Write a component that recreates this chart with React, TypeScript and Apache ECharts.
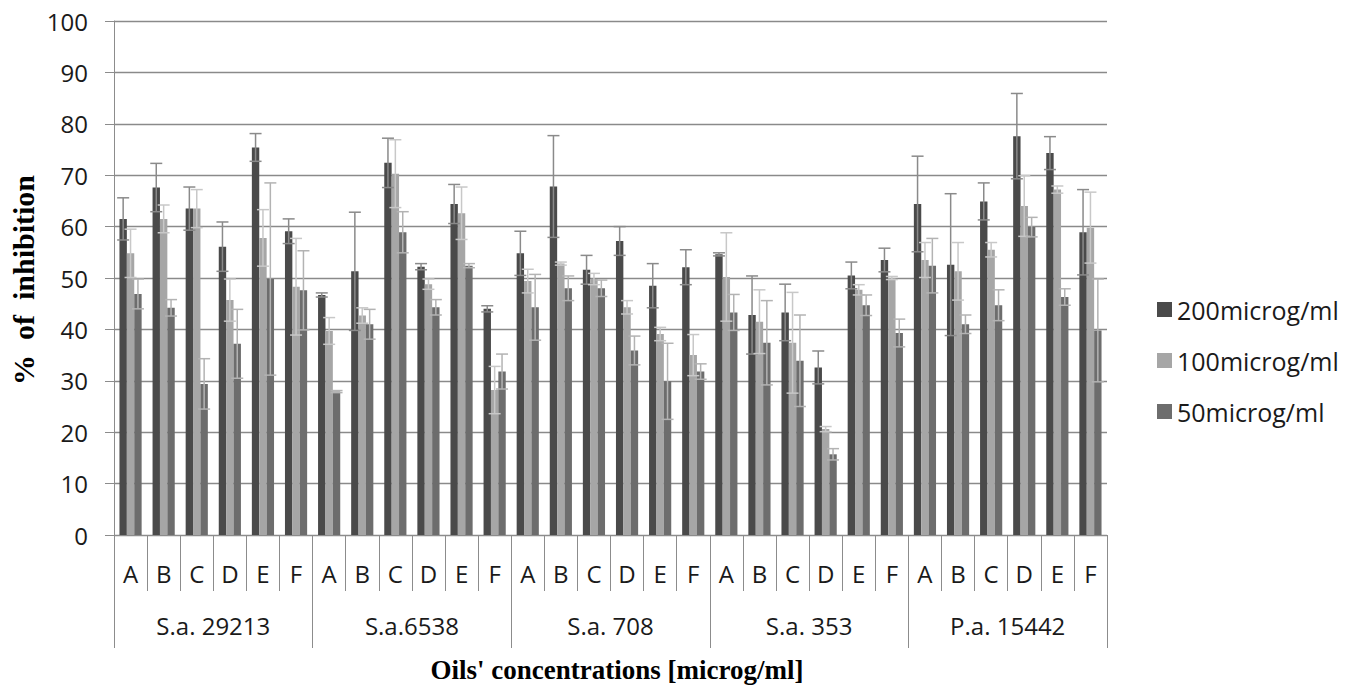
import React, { useEffect, useRef } from "react";
import * as echarts from "echarts";

const groups = ["S.a. 29213", "S.a.6538", "S.a. 708", "S.a. 353", "P.a. 15442"];
const oils = ["A", "B", "C", "D", "E", "F"];
const seriesNames = ["200microg/ml", "100microg/ml", "50microg/ml"];
const yTicks = [0, 10, 20, 30, 40, 50, 60, 70, 80, 90, 100];

const v200 = [61.5, 67.6, 63.5, 56.1, 75.4, 59.1, 46.7, 51.3, 72.4, 52.2, 64.4, 44.0, 54.8, 67.8, 51.6, 57.2, 48.5, 52.1, 54.6, 42.8, 43.3, 32.6, 50.5, 53.5, 64.4, 52.6, 64.9, 77.6, 74.3, 58.9];
const e200 = [4.1, 4.7, 4.2, 4.8, 2.7, 2.4, 0.4, 11.5, 4.8, 0.6, 3.8, 0.6, 4.3, 9.9, 2.8, 2.8, 4.3, 3.4, 0.3, 7.6, 5.5, 3.2, 2.6, 2.3, 9.3, 13.8, 3.6, 8.3, 3.2, 8.3];
const v100 = [54.8, 61.5, 63.5, 45.7, 57.8, 48.3, 39.7, 42.7, 70.3, 48.8, 62.6, 28.2, 49.4, 52.8, 49.8, 44.3, 39.1, 35.0, 50.2, 41.5, 37.4, 20.6, 47.7, 50.0, 53.5, 51.3, 55.5, 64.0, 67.2, 59.8];
const e100 = [4.7, 2.7, 3.7, 4.1, 5.5, 9.4, 2.6, 1.5, 6.6, 1.0, 5.1, 4.6, 2.3, 0.3, 1.1, 1.3, 1.3, 4.0, 8.6, 6.2, 9.8, 0.5, 1.0, 0.3, 3.4, 5.6, 1.4, 5.9, 0.7, 6.9];
const v50 = [46.9, 44.2, 29.4, 37.2, 49.8, 47.6, 27.9, 41.0, 58.9, 44.3, 52.4, 31.8, 44.3, 48.0, 48.0, 35.9, 29.9, 31.8, 43.3, 37.4, 33.9, 15.7, 44.7, 39.3, 52.4, 41.0, 44.7, 59.9, 46.3, 39.8];
const e50 = [2.9, 1.6, 4.9, 6.7, 18.7, 7.7, 0.2, 2.9, 4.0, 1.5, 0.4, 3.4, 6.4, 2.4, 1.6, 2.8, 7.4, 1.5, 3.5, 8.2, 8.9, 1.1, 2.0, 2.7, 5.3, 1.8, 3.0, 1.9, 1.6, 10.0];

const barColors = ["#4a4a4a", "#a6a6a6", "#6d6d6d"];
const errColors = ["#8a8a8a", "#c8c8c8", "#b3b3b3"];
const CAT_GAP = 0.33;

export default function App() {
  const ref = useRef<HTMLDivElement>(null);
  useEffect(() => {
    if (!ref.current) return;
    const chart = echarts.init(ref.current, null, { renderer: "svg" });
    const categories: string[] = [];
    groups.forEach((g) => oils.forEach((o) => categories.push(g + "|" + o)));
    const values = [v200, v100, v50];
    const errors = [e200, e100, e50];

    const barSeries = values.map((vals, k) => ({
      name: seriesNames[k],
      type: "bar",
      xAxisIndex: 0,
      data: vals,
      barGap: "0%",
      barCategoryGap: CAT_GAP * 100 + "%",
      itemStyle: { color: barColors[k] },
      z: 2,
    }));

    const errSeries = values.map((vals, k) => ({
      name: "err" + k,
      type: "custom",
      xAxisIndex: 0,
      z: 5,
      data: vals.map((v, i) => [i, v, errors[k][i]]),
      renderItem: (params: any, api: any) => {
        const idx = api.value(0);
        const v = api.value(1);
        const e = api.value(2);
        const catW = api.size([1, 0])[0];
        const bw = (catW * (1 - CAT_GAP)) / 3;
        const top = api.coord([idx, v + e]);
        const bot = api.coord([idx, v - e]);
        const x = top[0] + (k - 1) * bw;
        const half = 6;
        const st = { stroke: errColors[k], lineWidth: 1.5 };
        return {
          type: "group",
          children: [
            { type: "line", shape: { x1: x, y1: top[1], x2: x, y2: bot[1] }, style: st },
            { type: "line", shape: { x1: x - half, y1: top[1], x2: x + half, y2: top[1] }, style: st },
            { type: "line", shape: { x1: x - half, y1: bot[1], x2: x + half, y2: bot[1] }, style: st },
          ],
        };
      },
    }));

    chart.setOption({
      animation: false,
      backgroundColor: "#ffffff",
      textStyle: { fontFamily: "Open Sans" },
      grid: { left: 114, right: 243, top: 21, bottom: 150, containLabel: false },
      legend: {
        data: seriesNames,
        orient: "vertical",
        left: 1152,
        top: 292,
        itemWidth: 15,
        itemHeight: 15,
        itemGap: 26,
        icon: "rect",
        textStyle: { fontFamily: "Open Sans", fontSize: 25, color: "#1a1a1a" },
      },
      xAxis: [
        {
          type: "category",
          position: "bottom",
          data: categories,
          axisLine: { show: true, lineStyle: { color: "#8c8c8c", width: 1 } },
          axisTick: { show: true, interval: 0, length: 56, lineStyle: { color: "#8c8c8c" } },
          axisLabel: {
            interval: 0,
            margin: 26,
            fontFamily: "Open Sans",
            fontSize: 24,
            color: "#1a1a1a",
            formatter: (val: string) => val.split("|")[1],
          },
          splitLine: { show: false },
        },
        {
          type: "category",
          position: "bottom",
          data: groups,
          axisLine: { show: false },
          axisTick: { show: true, interval: 0, length: 113, lineStyle: { color: "#8c8c8c" } },
          axisLabel: { interval: 0, margin: 78, fontFamily: "Open Sans", fontSize: 24, color: "#1a1a1a" },
          splitLine: { show: false },
        },
      ],
      yAxis: {
        type: "value",
        min: yTicks[0],
        max: yTicks[yTicks.length - 1],
        interval: 10,
        axisLine: { show: true, lineStyle: { color: "#8c8c8c", width: 1 } },
        axisTick: { show: true, length: 9, lineStyle: { color: "#8c8c8c" } },
        axisLabel: { margin: 26, fontFamily: "Open Sans", fontSize: 24, color: "#1a1a1a" },
        splitLine: { show: true, lineStyle: { color: "#8a8a8a", width: 1.3 } },
      },
      graphic: [
        {
          type: "text",
          x: 23,
          y: 280,
          rotation: Math.PI / 2,
          style: {
            text: "%  of  inhibition",
            fontFamily: "Liberation Serif",
            fontWeight: "bold",
            fontSize: 30,
            fill: "#000",
            align: "center",
            verticalAlign: "middle",
          },
        },
        {
          type: "text",
          x: 617,
          y: 670,
          style: {
            text: "Oils' concentrations [microg/ml]",
            fontFamily: "Liberation Serif",
            fontWeight: "bold",
            fontSize: 27,
            fill: "#000",
            align: "center",
            verticalAlign: "middle",
          },
        },
      ],
      series: [...barSeries, ...errSeries],
    });
    return () => chart.dispose();
  }, []);
  return (
    <div
      ref={ref}
      style={{ position: "fixed", left: 0, top: 0, width: 1350, height: 685, background: "#fff" }}
    />
  );
}
